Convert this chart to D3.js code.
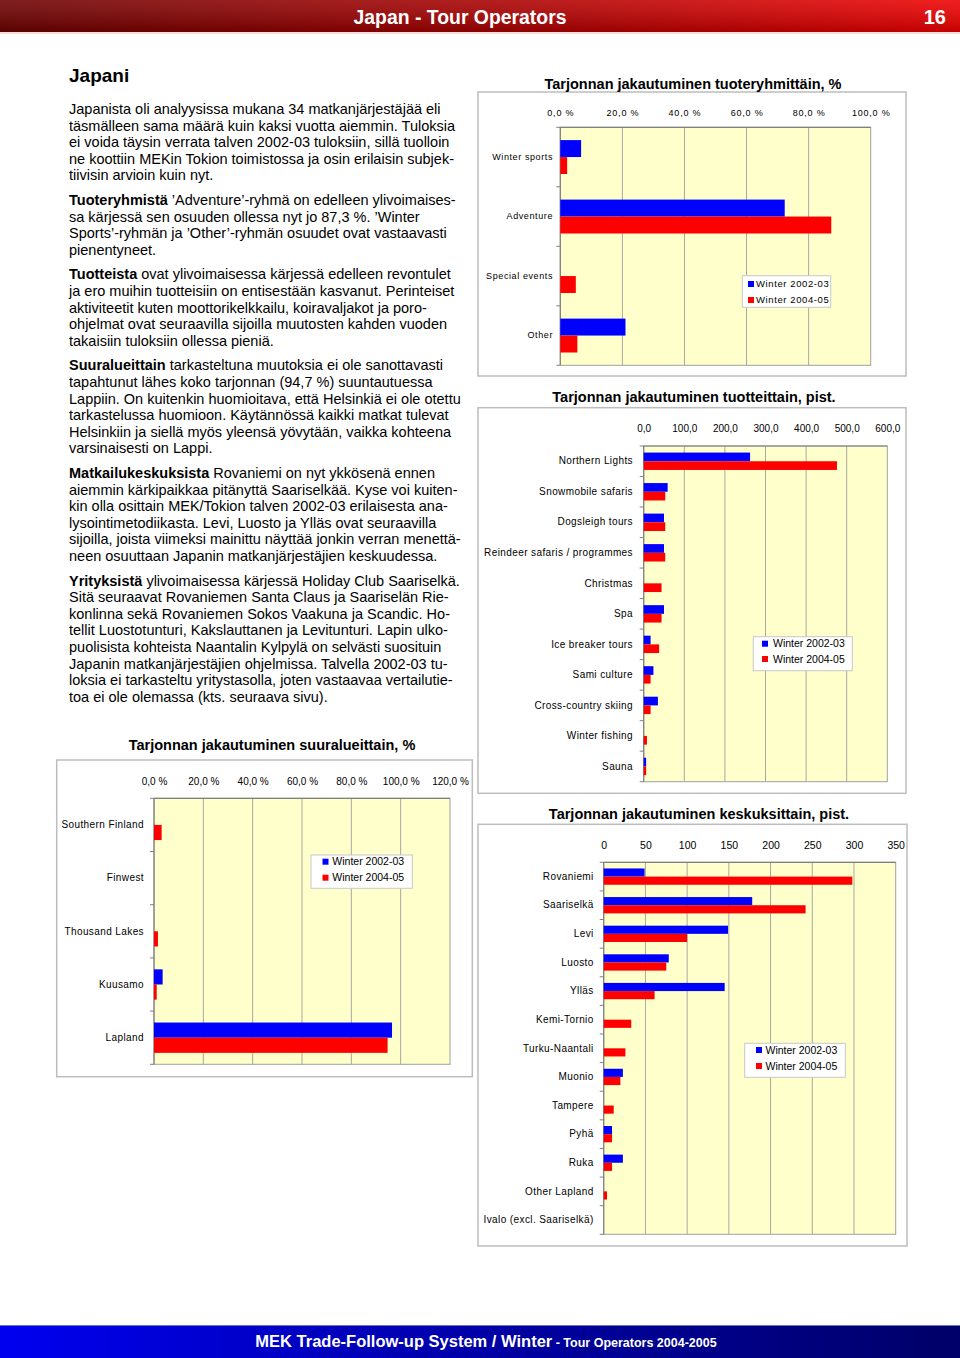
<!DOCTYPE html>
<html><head><meta charset="utf-8">
<script src="https://cdn.jsdelivr.net/npm/d3@7"></script>
<style>
html,body{margin:0;padding:0;background:#fff;}
svg{display:block;}
text{font-family:"Liberation Sans",Arial,sans-serif;}
</style></head><body>
<svg id="page" width="960" height="1358"></svg>
<script>
// ---------- DATA ----------
const seriesNames = ["Winter 2002-03", "Winter 2004-05"];

const groupCategories = ["Winter sports", "Adventure", "Special events", "Other"];
const groupWinter0203 = [6.7, 72.3, 0, 21.0];
const groupWinter0405 = [2.2, 87.3, 5.0, 5.5];
const groupTicks = [0, 20, 40, 60, 80, 100];

const productCategories = ["Northern Lights", "Snowmobile safaris", "Dogsleigh tours", "Reindeer safaris / programmes", "Christmas", "Spa", "Ice breaker tours", "Sami culture", "Cross-country skiing", "Winter fishing", "Sauna"];
const productWinter0203 = [262, 59, 50, 50, 0, 50, 17, 24, 35, 0, 6];
const productWinter0405 = [476, 53, 53, 53, 44, 44, 38, 17, 17, 8, 6];
const productTicks = [0, 100, 200, 300, 400, 500, 600];

const centreCategories = ["Rovaniemi", "Saariselkä", "Levi", "Luosto", "Ylläs", "Kemi-Tornio", "Turku-Naantali", "Muonio", "Tampere", "Pyhä", "Ruka", "Other Lapland", "Ivalo (excl. Saariselkä)"];
const centreWinter0203 = [49, 178, 149, 78, 145, 0, 0, 23, 0, 10, 23, 0, 0];
const centreWinter0405 = [298, 242, 100, 75, 61, 33, 26, 20, 12, 10, 10, 4, 0];
const centreTicks = [0, 50, 100, 150, 200, 250, 300, 350];

const regionCategories = ["Southern Finland", "Finwest", "Thousand Lakes", "Kuusamo", "Lapland"];
const regionWinter0203 = [0, 0, 0, 3.5, 96.5];
const regionWinter0405 = [3.1, 0, 1.6, 1.1, 94.7];
const regionTicks = [0, 20, 40, 60, 80, 100, 120];

const chartTitles = [
  "Tarjonnan jakautuminen tuoteryhmittäin, %",
  "Tarjonnan jakautuminen tuotteittain, pist.",
  "Tarjonnan jakautuminen keskuksittain, pist.",
  "Tarjonnan jakautuminen suuralueittain, %"
];

const pageTitle = "Japan - Tour Operators";
const pageNumber = "16";
const footerMain = "MEK Trade-Follow-up System / Winter";
const footerSub = " - Tour Operators 2004-2005";
const heading = "Japani";

const paragraphs = [
  ["Japanista oli analyysissa mukana 34 matkanjärjestäjää eli",
   "täsmälleen sama määrä kuin kaksi vuotta aiemmin. Tuloksia",
   "ei voida täysin verrata talven 2002-03 tuloksiin, sillä tuolloin",
   "ne koottiin MEKin Tokion toimistossa ja osin erilaisin subjek-",
   "tiivisin arvioin kuin nyt."],
  ["**Tuoteryhmistä** ’Adventure’-ryhmä on edelleen ylivoimaises-",
   "sa kärjessä sen osuuden ollessa nyt jo 87,3 %. ’Winter",
   "Sports’-ryhmän ja ’Other’-ryhmän osuudet ovat vastaavasti",
   "pienentyneet."],
  ["**Tuotteista** ovat ylivoimaisessa kärjessä edelleen revontulet",
   "ja ero muihin tuotteisiin on entisestään kasvanut. Perinteiset",
   "aktiviteetit kuten moottorikelkkailu, koiravaljakot ja poro-",
   "ohjelmat ovat seuraavilla sijoilla muutosten kahden vuoden",
   "takaisiin tuloksiin ollessa pieniä."],
  ["**Suuralueittain** tarkasteltuna muutoksia ei ole sanottavasti",
   "tapahtunut lähes koko tarjonnan (94,7 %) suuntautuessa",
   "Lappiin. On kuitenkin huomioitava, että Helsinkiä ei ole otettu",
   "tarkastelussa huomioon. Käytännössä kaikki matkat tulevat",
   "Helsinkiin ja siellä myös yleensä yövytään, vaikka kohteena",
   "varsinaisesti on Lappi."],
  ["**Matkailukeskuksista** Rovaniemi on nyt ykkösenä ennen",
   "aiemmin kärkipaikkaa pitänyttä Saariselkää. Kyse voi kuiten-",
   "kin olla osittain MEK/Tokion talven 2002-03 erilaisesta ana-",
   "lysointimetodiikasta. Levi, Luosto ja Ylläs ovat seuraavilla",
   "sijoilla, joista viimeksi mainittu näyttää jonkin verran menettä-",
   "neen osuuttaan Japanin matkanjärjestäjien keskuudessa."],
  ["**Yrityksistä** ylivoimaisessa kärjessä Holiday Club Saariselkä.",
   "Sitä seuraavat Rovaniemen Santa Claus ja Saariselän Rie-",
   "konlinna sekä Rovaniemen Sokos Vaakuna ja Scandic. Ho-",
   "tellit Luostotunturi, Kakslauttanen ja Levitunturi. Lapin ulko-",
   "puolisista kohteista Naantalin Kylpylä on selvästi suosituin",
   "Japanin matkanjärjestäjien ohjelmissa. Talvella 2002-03 tu-",
   "loksia ei tarkasteltu yritystasolla, joten vastaavaa vertailutie-",
   "toa ei ole olemassa (kts. seuraava sivu)."]
];

// ---------- DRAWING ----------
const svg = d3.select("#page");
const defs = svg.append("defs");
const BLUE = "#0000ff", RED = "#ff0000";
const comma = d3.format(".1f");
const fmtPct = v => comma(v).replace(".", ",") + " %";
const fmtDec = v => comma(v).replace(".", ",");
const fmtInt = d3.format("d");

// header
const hg = defs.append("linearGradient").attr("id", "hdr").attr("x1", 0).attr("x2", 1).attr("y1", 0).attr("y2", 0);
hg.append("stop").attr("offset", 0).attr("stop-color", "#6c0000");
hg.append("stop").attr("offset", 0.5).attr("stop-color", "#a80000");
hg.append("stop").attr("offset", 1).attr("stop-color", "#ee0000");
const hv = defs.append("linearGradient").attr("id", "hdrv").attr("x1", 0).attr("x2", 0).attr("y1", 0).attr("y2", 1);
hv.append("stop").attr("offset", 0).attr("stop-color", "#fff").attr("stop-opacity", 0.12);
hv.append("stop").attr("offset", 1).attr("stop-color", "#000").attr("stop-opacity", 0.18);
svg.append("rect").attr("x", 0).attr("y", 0).attr("width", 960).attr("height", 32).attr("fill", "url(#hdr)");
svg.append("rect").attr("x", 0).attr("y", 0).attr("width", 960).attr("height", 32).attr("fill", "url(#hdrv)");
svg.append("rect").attr("x", 0).attr("y", 32).attr("width", 960).attr("height", 2).attr("fill", "#f6dede");
svg.append("text").attr("x", 460).attr("y", 17).attr("dy", "0.35em").attr("text-anchor", "middle")
  .attr("fill", "#fff").attr("font-weight", "bold").attr("font-size", 20)
  .style("font-family", "'Liberation Sans Narrow','Arial Narrow','Liberation Sans',sans-serif")
  .attr("textLength", 213).attr("lengthAdjust", "spacingAndGlyphs").text(pageTitle);
svg.append("text").attr("x", 946).attr("y", 17).attr("dy", "0.35em").attr("text-anchor", "end")
  .attr("fill", "#fff").attr("font-weight", "bold").attr("font-size", 20)
  .style("font-family", "'Liberation Sans Narrow','Arial Narrow','Liberation Sans',sans-serif")
  .text(pageNumber);

// footer
const fg = defs.append("linearGradient").attr("id", "ftr").attr("x1", 0).attr("x2", 1).attr("y1", 0).attr("y2", 0);
fg.append("stop").attr("offset", 0).attr("stop-color", "#0000f0");
fg.append("stop").attr("offset", 0.55).attr("stop-color", "#0000a0");
fg.append("stop").attr("offset", 1).attr("stop-color", "#000068");
svg.append("rect").attr("x", 0).attr("y", 1325).attr("width", 960).attr("height", 33).attr("fill", "url(#ftr)");
svg.append("rect").attr("x", 0).attr("y", 1325).attr("width", 960).attr("height", 1).attr("fill", "#7070c8");
const ft = svg.append("text").attr("x", 486).attr("y", 1341).attr("dy", "0.35em").attr("text-anchor", "middle")
  .attr("fill", "#fff").attr("font-weight", "bold")
  .style("font-family", "'Liberation Sans Narrow','Arial Narrow','Liberation Sans',sans-serif");
ft.append("tspan").attr("font-size", 16.5).text(footerMain);
ft.append("tspan").attr("font-size", 12.5).text(footerSub);

// text column
svg.append("text").attr("x", 69).attr("y", 75).attr("dy", "0.35em").attr("font-size", 19).attr("font-weight", "bold").attr("fill", "#000").text(heading);
let ly = 109;
paragraphs.forEach(par => {
  par.forEach(line => {
    const t = svg.append("text").attr("x", 69).attr("y", ly).attr("dy", "0.35em").attr("font-size", 14.5).attr("fill", "#000");
    const m = line.match(/^\*\*(.+?)\*\*(.*)$/);
    if (m) {
      t.append("tspan").attr("font-weight", "bold").text(m[1]);
      t.append("tspan").text(m[2]);
    } else t.text(line);
    ly += 16.6;
  });
  ly += 8;
});

function barChart(o) {
  const g = svg.append("g");
  g.append("rect").attr("x", o.frame[0]).attr("y", o.frame[1]).attr("width", o.frame[2]).attr("height", o.frame[3])
    .attr("fill", "#fff").attr("stroke", "#bdbdbd").attr("stroke-width", 1.5);
  g.append("text").attr("x", o.titleX).attr("y", o.titleY).attr("dy", "0.35em").attr("text-anchor", "middle")
    .attr("font-size", 14.5).attr("font-weight", "bold").attr("fill", "#000").text(o.title);

  const [px0, px1, py0, py1] = o.plot;
  const x = d3.scaleLinear().domain([o.ticks[0], o.ticks[o.ticks.length - 1]]).range([px0, px1]);
  const y = d3.scaleBand().domain(o.cats).range([py0, py1]).paddingInner(0.43).paddingOuter(0.215);
  const bh = y.bandwidth() / 2;

  g.append("rect").attr("x", px0).attr("y", py0).attr("width", px1 - px0).attr("height", py1 - py0)
    .attr("fill", "#ffffcc").attr("stroke", "#a0a0a0").attr("stroke-width", 1);
  g.selectAll(".grid").data(o.ticks.slice(1, -1)).join("line")
    .attr("x1", d => x(d)).attr("x2", d => x(d)).attr("y1", py0).attr("y2", py1)
    .attr("stroke", "#a8a8a0").attr("stroke-width", 1);

  // value axis (top)
  const xa = g.append("g").attr("transform", `translate(0,${o.tickY})`)
    .call(d3.axisTop(x).tickValues(o.ticks).tickSize(0).tickPadding(0).tickFormat(o.fmt));
  xa.select(".domain").remove();
  xa.selectAll("text").attr("dy", "0.35em").attr("font-size", o.tickFont).attr("letter-spacing", o.tickSpacing)
    .attr("fill", "#000").style("font-family", "'Liberation Sans',Arial,sans-serif");

  // category axis
  const ya = g.append("g").attr("transform", `translate(${o.labelX},0)`)
    .call(d3.axisLeft(y).tickSize(0).tickPadding(0));
  ya.select(".domain").remove();
  ya.selectAll("text").attr("font-size", o.labelFont).attr("letter-spacing", o.labelSpacing)
    .attr("fill", "#000").style("font-family", "'Liberation Sans',Arial,sans-serif");
  const step = y.step();
  g.selectAll(".ctick").data(d3.range(o.cats.length + 1)).join("line")
    .attr("x1", px0 - 4).attr("x2", px0).attr("y1", k => py0 + k * step).attr("y2", k => py0 + k * step)
    .attr("stroke", "#808080");
  g.append("line").attr("x1", px0).attr("x2", px0).attr("y1", py0).attr("y2", py1).attr("stroke", "#808080").attr("stroke-width", 1.2);
  g.append("line").attr("x1", px0).attr("x2", px1).attr("y1", py0).attr("y2", py0).attr("stroke", "#808080").attr("stroke-width", 1.2);

  // bars
  [o.s1, o.s2].forEach((vals, si) => {
    g.selectAll(".bar" + si).data(o.cats.map((c, i) => ({ c, v: vals[i] }))).join("rect")
      .attr("x", x(0)).attr("y", d => y(d.c) + si * bh)
      .attr("width", d => x(d.v) - x(0)).attr("height", bh)
      .attr("fill", si === 0 ? BLUE : RED);
  });

  // legend
  const [lx, lyy, lw, lh] = o.legend;
  g.append("rect").attr("x", lx).attr("y", lyy).attr("width", lw).attr("height", lh)
    .attr("fill", "#fff").attr("stroke", "#c8c8c8");
  seriesNames.forEach((n, i) => {
    const cy = o.legendRows[i];
    g.append("rect").attr("x", o.legendSq).attr("y", cy - 3).attr("width", 6).attr("height", 6).attr("fill", i === 0 ? BLUE : RED);
    g.append("text").attr("x", o.legendText).attr("y", cy).attr("dy", "0.35em").attr("font-size", o.legendFont)
      .attr("letter-spacing", o.legendSpacing).attr("fill", "#000").text(n);
  });
}

barChart({
  title: chartTitles[0], titleX: 693, titleY: 84,
  frame: [478, 92, 428, 284],
  plot: [560.3, 870.7, 127.3, 365.3],
  cats: groupCategories, s1: groupWinter0203, s2: groupWinter0405, ticks: groupTicks, fmt: fmtPct,
  tickY: 112.5, tickFont: 9, tickSpacing: 0.8,
  labelX: 553, labelFont: 9, labelSpacing: 0.6,
  legend: [742.3, 275.7, 88.4, 31.6], legendSq: 748, legendText: 756, legendRows: [284, 300], legendFont: 9.5, legendSpacing: 0.6
});

barChart({
  title: chartTitles[1], titleX: 694, titleY: 397,
  frame: [478, 407.7, 428, 385.6],
  plot: [643.7, 887.3, 446, 781.7],
  cats: productCategories, s1: productWinter0203, s2: productWinter0405, ticks: productTicks, fmt: fmtDec,
  tickY: 428.3, tickFont: 10, tickSpacing: 0,
  labelX: 633, labelFont: 10, labelSpacing: 0.4,
  legend: [753.3, 636.7, 99, 34], legendSq: 762, legendText: 773, legendRows: [643.7, 659], legendFont: 10.5, legendSpacing: 0
});

barChart({
  title: chartTitles[2], titleX: 699, titleY: 814,
  frame: [478, 824.3, 429, 421.7],
  plot: [603.7, 895.7, 862.3, 1234.3],
  cats: centreCategories, s1: centreWinter0203, s2: centreWinter0405, ticks: centreTicks, fmt: fmtInt,
  tickY: 845, tickFont: 10.5, tickSpacing: 0,
  labelX: 593.7, labelFont: 10, labelSpacing: 0.4,
  legend: [744.7, 1043.3, 100.6, 34], legendSq: 756, legendText: 765.5, legendRows: [1050, 1066], legendFont: 10.5, legendSpacing: 0
});

barChart({
  title: chartTitles[3], titleX: 272, titleY: 745,
  frame: [56.7, 760, 415.6, 316.7],
  plot: [154, 450, 798.3, 1064.3],
  cats: regionCategories, s1: regionWinter0203, s2: regionWinter0405, ticks: regionTicks, fmt: fmtPct,
  tickY: 781, tickFont: 10, tickSpacing: 0,
  labelX: 144, labelFont: 10, labelSpacing: 0.4,
  legend: [311, 855, 101.3, 33.3], legendSq: 322.5, legendText: 332.3, legendRows: [861.7, 877.7], legendFont: 10.5, legendSpacing: 0
});
</script>
</body></html>
